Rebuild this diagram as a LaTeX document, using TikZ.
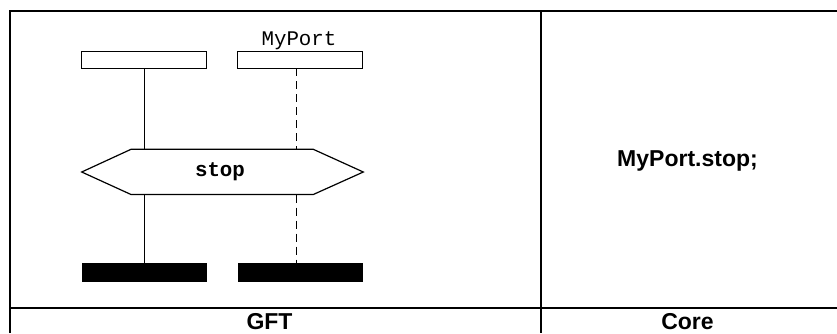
\documentclass[tikz,border=0pt]{standalone}
\usepackage{fontspec}
\setmainfont{Liberation Sans}
\newfontfamily\monofont{Liberation Mono}
\begin{document}
\begin{tikzpicture}[x=1pt,y=-1pt,
  tableline/.style={line width=2pt},
  headbox/.style={draw,line width=1.2pt,minimum width=125pt,minimum height=17pt,inner sep=0pt,outer sep=0pt},
  endbar/.style={fill=black,minimum width=125pt,minimum height=19pt,inner sep=0pt,outer sep=0pt},
  lifeline/.style={line width=1pt},
  portline/.style={line width=1pt,dash pattern=on 8pt off 5pt},
  hexline/.style={line width=1.2pt,line join=miter},
  labeltext/.style={font=\fontsize{23}{27}\selectfont\bfseries,inner sep=0pt,anchor=base},
  monotext/.style={font=\monofont\fontsize{20.8}{24}\selectfont,inner sep=0pt,anchor=base},
  monobold/.style={font=\monofont\bfseries\fontsize{20.8}{24}\selectfont,inner sep=0pt,anchor=base}]
\useasboundingbox (0,0) rectangle (837,333);
% table
\draw[tableline] (10,333) -- (10,11) -- (837,11);
\draw[tableline] (541,11) -- (541,333);
\draw[tableline] (10,307.5) -- (837,307.5);
% heads
\node[headbox] (h1) at (144.2,59.7) {};
\node[headbox] (h2) at (300.2,59.7) {};
\node[monotext] (port) at (299,45) {MyPort};
% hexagon
\coordinate (tl) at (131,149.3);
\coordinate (tr) at (313.3,149.3);
\coordinate (rp) at (363.3,172);
\coordinate (br) at (313.3,194.5);
\coordinate (bl) at (131,194.5);
\coordinate (lp) at (81.7,172);
\draw[hexline] (tl) -- (tr) -- (rp) -- (br) -- (bl) -- (lp) -- cycle;
\node[monobold] (stop) at (220,176.5) {stop};
\coordinate (a1) at (144.5,149.3);
\coordinate (a2) at (296,149.3);
\coordinate (b1) at (144.5,194.5);
\coordinate (b2) at (296.5,194.5);
% end bars
\node[endbar] (e1) at (144.5,272.8) {};
\node[endbar] (e2) at (300.2,272.8) {};
% lifelines
\draw[lifeline] (h1.south -| a1) -- (a1);
\draw[portline] (h2.south -| a2) -- (a2);
\draw[lifeline] (b1) -- (e1.north -| b1);
\draw[portline] (b2) -- (e2.north -| b2);
% texts
\node[labeltext] (code) at (687.5,166.7) {MyPort.stop;};
\node[labeltext] (gft) at (269.5,329.5) {GFT};
\node[labeltext] (core) at (687.5,329.5) {Core};
\end{tikzpicture}
\end{document}
